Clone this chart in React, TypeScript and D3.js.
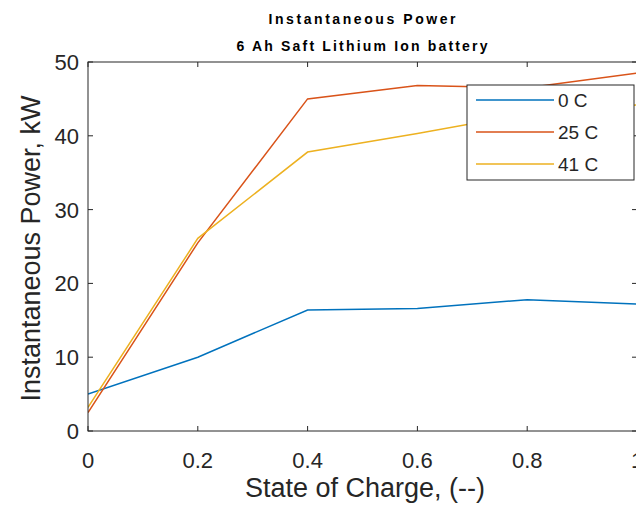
import { useEffect, useRef } from "react";
import * as d3 from "d3";

const soc = [0, 0.2, 0.4, 0.6, 0.8, 1];
const power0C = [5.0, 10.0, 16.4, 16.6, 17.8, 17.2];
const power25C = [2.5, 25.5, 45.0, 46.8, 46.5, 48.5];
const power41C = [3.2, 26.1, 37.8, 40.3, 43.0, 44.2];
const seriesNames = ["0 C", "25 C", "41 C"];
const xTicks = [0, 0.2, 0.4, 0.6, 0.8, 1];
const yTicks = [0, 10, 20, 30, 40, 50];

const colors = ["#0072BD", "#D95319", "#EDB120"];
const font = "'Liberation Sans', Arial, sans-serif";

export default function App() {
  const ref = useRef<SVGSVGElement | null>(null);

  useEffect(() => {
    const svg = d3.select(ref.current!);
    svg.selectAll("*").remove();

    const left = 88, right = 637, top = 62, bottom = 431;
    const x = d3.scaleLinear().domain([0, 1]).range([left, right]);
    const y = d3.scaleLinear().domain([0, 50]).range([bottom, top]);
    const axisColor = "#262626";

    // titles (spread out like the original export)
    const t = svg.append("g").attr("font-family", font).attr("font-weight", "bold")
      .attr("font-size", 14).attr("fill", "#000").attr("text-anchor", "middle");
    t.append("text").attr("x", 362).attr("y", 24)
      .attr("textLength", 187).attr("lengthAdjust", "spacing").text("Instantaneous Power");
    t.append("text").attr("x", 362).attr("y", 51)
      .attr("textLength", 251).attr("lengthAdjust", "spacing").text("6 Ah Saft Lithium Ion battery");

    // lines
    const series = [power0C, power25C, power41C];
    const line = d3.line<number>().x((_, i) => x(soc[i])).y((d) => y(d));
    svg.append("clipPath").attr("id", "plotclip")
      .append("rect").attr("x", left).attr("y", top).attr("width", right - left).attr("height", bottom - top);
    series.forEach((vals, i) => {
      svg.append("path")
        .datum(vals)
        .attr("d", line)
        .attr("fill", "none")
        .attr("stroke", colors[i])
        .attr("stroke-width", 1.5)
        .attr("clip-path", "url(#plotclip)");
    });

    // axes box with inward ticks
    const tickLen = 5;
    const ax = svg.append("g").attr("stroke", axisColor).attr("stroke-width", 1).attr("fill", "none");
    ax.append("rect").attr("x", left).attr("y", top).attr("width", right - left).attr("height", bottom - top);
    xTicks.forEach((v) => {
      ax.append("line").attr("x1", x(v)).attr("x2", x(v)).attr("y1", bottom).attr("y2", bottom - tickLen);
      ax.append("line").attr("x1", x(v)).attr("x2", x(v)).attr("y1", top).attr("y2", top + tickLen);
    });
    yTicks.forEach((v) => {
      ax.append("line").attr("x1", left).attr("x2", left + tickLen).attr("y1", y(v)).attr("y2", y(v));
      ax.append("line").attr("x1", right).attr("x2", right - tickLen).attr("y1", y(v)).attr("y2", y(v));
    });

    // tick labels
    const tl = svg.append("g").attr("font-family", font).attr("font-size", 22).attr("fill", axisColor);
    xTicks.forEach((v) => {
      tl.append("text").attr("x", x(v)).attr("y", bottom + 37).attr("text-anchor", "middle").text(String(v));
    });
    yTicks.forEach((v) => {
      tl.append("text").attr("x", left - 9).attr("y", y(v) + 8).attr("text-anchor", "end").text(String(v));
    });

    // axis titles
    svg.append("text").attr("font-family", font).attr("font-size", 27).attr("fill", axisColor)
      .attr("text-anchor", "middle").attr("x", 365).attr("y", 497).text("State of Charge, (--)");
    svg.append("text").attr("font-family", font).attr("font-size", 27).attr("fill", axisColor)
      .attr("text-anchor", "middle").attr("transform", `translate(40,${(top + bottom) / 2 + 2}) rotate(-90)`)
      .text("Instantaneous Power, kW");

    // legend
    const lg = svg.append("g").attr("transform", "translate(467,85)");
    lg.append("rect").attr("width", 167).attr("height", 95).attr("fill", "#fff")
      .attr("stroke", axisColor).attr("stroke-width", 1);
    seriesNames.forEach((name, i) => {
      const yy = 15 + i * 32;
      lg.append("line").attr("x1", 9).attr("x2", 87).attr("y1", yy).attr("y2", yy)
        .attr("stroke", colors[i]).attr("stroke-width", 1.5);
      lg.append("text").attr("x", 91).attr("y", yy + 7).attr("font-family", font)
        .attr("font-size", 19).attr("fill", axisColor).text(name);
    });
  }, []);

  return (
    <div>
      <style>{`body{margin:0}`}</style>
      <svg ref={ref} width={636} height={509} style={{ display: "block", background: "#fff" }} />
    </div>
  );
}
